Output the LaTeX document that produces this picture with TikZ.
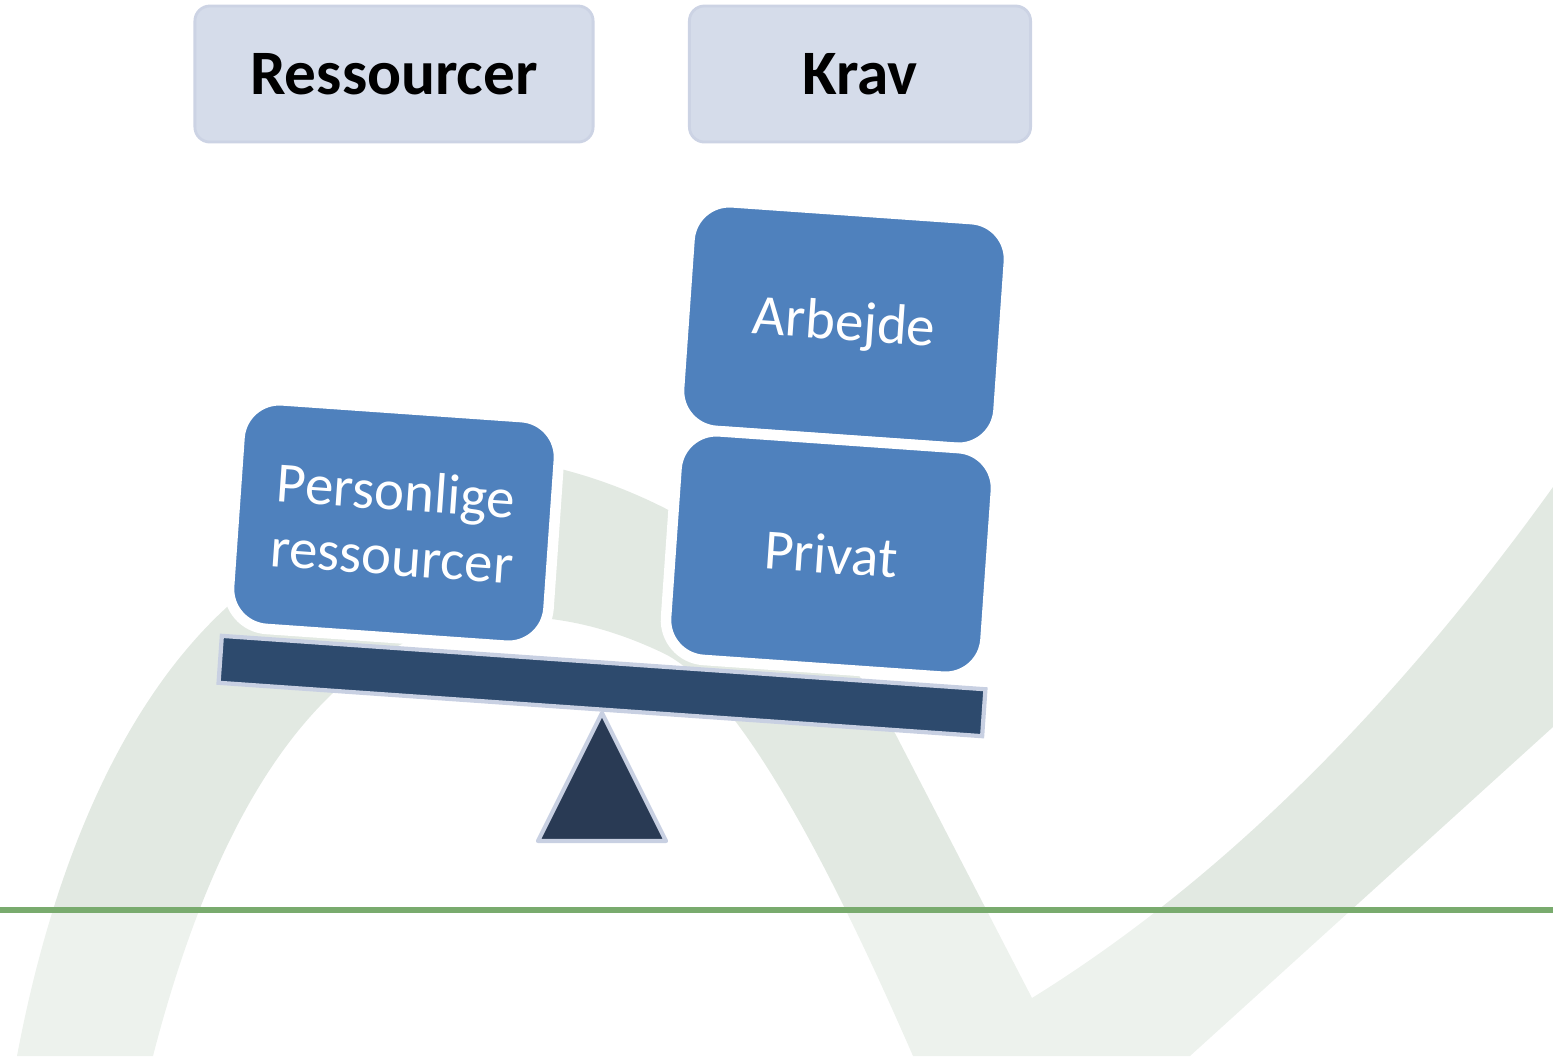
\documentclass[tikz,border=0pt]{standalone}
\usepackage{fontspec}
\setmainfont{Carlito}
\definecolor{headerfill}{RGB}{213, 220, 234}
\definecolor{headerline}{RGB}{204, 211, 228}
\definecolor{weightblue}{RGB}{79, 129, 189}
\definecolor{beamblue}{RGB}{45, 74, 109}
\definecolor{pivotblue}{RGB}{41, 58, 84}
\definecolor{rimlavender}{RGB}{200, 208, 226}
\definecolor{swooshtop}{RGB}{226, 233, 226}
\definecolor{swooshlow}{RGB}{237, 242, 237}
\definecolor{rulegreen}{RGB}{121, 171, 110}

\begin{document}
\begin{tikzpicture}[x=0.01cm, y=-0.01cm,
    header/.style={rectangle, rounded corners=0.15cm, fill=headerfill, draw=headerline, line width=0.8pt,
                   minimum height=1.36cm, font=\fontsize{18}{21}\selectfont\bfseries},
    weight/.style={rectangle, rounded corners=0.4cm, fill=weightblue, draw=white, line width=3pt,
                   minimum width=3.2cm, minimum height=2.29cm, rotate=-4, text=white, align=center,
                   font=\fontsize{16.2}{18.5}\selectfont},
    beam/.style={rectangle, fill=beamblue, draw=rimlavender, line width=1.2pt,
                 minimum width=7.65cm, minimum height=0.47cm, rotate=-4},
    pivot/.style={fill=pivotblue, draw=rimlavender, line width=1.2pt, line join=round}]
    \useasboundingbox (0,0) rectangle (1553,1056);

    % background swoosh, lighter below the rule
    \foreach \ya/\yb/\tone in {0/910/swooshtop, 910/1056/swooshlow}{
        \begin{scope}
            \clip (0,\ya) rectangle (1553,\yb);
            \fill[\tone] (17,1056) .. controls (52,870) and (120,705) .. (227,607)
                         .. controls (323,519) and (430,442) .. (557,468)
                         .. controls (703,504) and (827,605) .. (897,737)
                         -- (1032,998)
                         .. controls (1219,882) and (1392,711) .. (1553,487)
                         -- (1553,727) -- (1190,1056) -- (913,1056)
                         .. controls (809,817) and (726,683) .. (663,653)
                         .. controls (546,597) and (428,603) .. (333,693)
                         .. controls (257,765) and (197,886) .. (153,1056)
                         -- cycle;
        \end{scope}
    }
    \coordinate (ruleW) at (0,910);
    \coordinate (ruleE) at (1553,910);
    \draw[rulegreen, line width=1.7pt] (ruleW) -- (ruleE);

    \node[header, minimum width=3.98cm] (ressourcer) at (394,74)  {Ressourcer};
    \node[header, minimum width=3.41cm] (krav)       at (860,74)  {Krav};

    \node[beam] (beam) at (602,686) {};
    \filldraw[pivot] (602,713) -- (666,841) -- (538,841) -- cycle;

    \node[weight] (personlige) at (394,523) {Personlige\\ressourcer};
    \node[weight] (arbejde)    at (844,325) {Arbejde};
    \node[weight] (privat)     at (831,554) {Privat};
\end{tikzpicture}
\end{document}
